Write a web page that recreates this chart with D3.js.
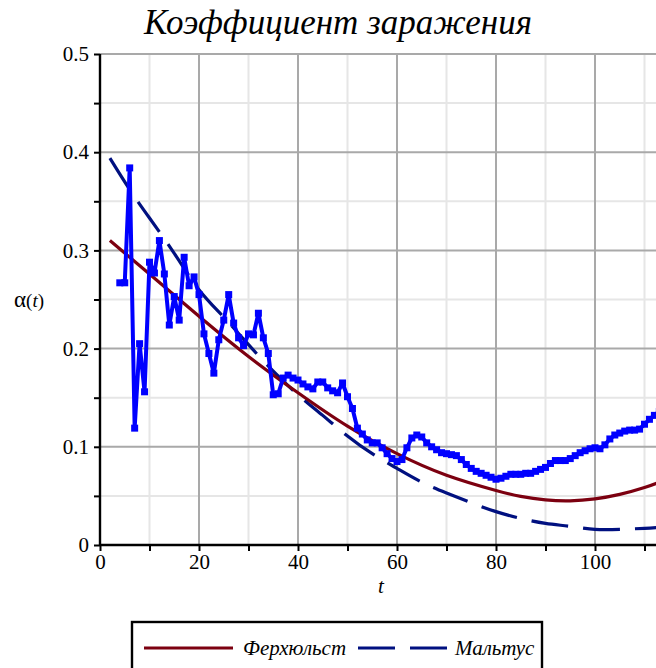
<!DOCTYPE html>
<html>
<head>
<meta charset="utf-8">
<script src="https://cdn.jsdelivr.net/npm/d3@7"></script>
<style>
  body { margin: 0; background: #fff; }
  text { font-family: "Liberation Serif", "Times New Roman", serif; }
</style>
</head>
<body>
<svg id="chart" width="656" height="668"></svg>
<script>
// observed infection coefficient, t = 4 .. 113
var obsT = d3.range(4, 114);
var obsAlpha = [0.267, 0.267, 0.384, 0.119, 0.205, 0.156, 0.288, 0.277, 0.310, 0.276,
  0.224, 0.253, 0.229, 0.293, 0.264, 0.273, 0.255, 0.215, 0.195, 0.175,
  0.209, 0.229, 0.255, 0.226, 0.211, 0.203, 0.215, 0.214, 0.236, 0.211,
  0.195, 0.153, 0.154, 0.170, 0.173, 0.170, 0.168, 0.164, 0.161, 0.159,
  0.166, 0.166, 0.160, 0.157, 0.155, 0.165, 0.151, 0.139, 0.119, 0.113,
  0.107, 0.104, 0.104, 0.099, 0.093, 0.088, 0.085, 0.087, 0.099, 0.109,
  0.112, 0.110, 0.104, 0.100, 0.097, 0.094, 0.093, 0.092, 0.091, 0.087,
  0.082, 0.078, 0.075, 0.073, 0.071, 0.069, 0.067, 0.068, 0.070, 0.072,
  0.072, 0.072, 0.073, 0.073, 0.075, 0.077, 0.079, 0.083, 0.086, 0.086,
  0.086, 0.088, 0.091, 0.094, 0.096, 0.098, 0.099, 0.098, 0.102, 0.108,
  0.112, 0.114, 0.116, 0.117, 0.117, 0.118, 0.123, 0.128, 0.132, 0.136];

// Verhulst fit
var verT = [2, 10, 20, 30, 40, 50, 60, 70, 80, 85, 90, 95, 100, 105, 110, 113];
var verAlpha = [0.310, 0.276, 0.233, 0.192, 0.155, 0.121, 0.093, 0.071, 0.0555, 0.0495, 0.046, 0.045, 0.047,
  0.0515, 0.0585, 0.064];

// Malthus fit
var malT = [2, 6, 10, 15, 20, 25, 30, 35, 40, 45, 50, 55, 60, 65, 70, 75, 80, 85, 90, 95, 100, 105, 110, 113];
var malAlpha = [0.394, 0.362, 0.333, 0.297, 0.260, 0.232, 0.204, 0.177, 0.153, 0.132, 0.111, 0.093, 0.078,
  0.064, 0.053, 0.043, 0.034, 0.027, 0.022, 0.019, 0.016, 0.016, 0.017, 0.018];

var xTicks = [0, 20, 40, 60, 80, 100];
var yTicks = [0, 0.1, 0.2, 0.3, 0.4, 0.5];
var legendNames = ["Ферхюльст", "Мальтус"];

var colRed = "#7c0010", colNavy = "#001080", colBlue = "#0000ff";
var serif = "'Liberation Serif', 'Times New Roman', serif";

var svg = d3.select("#chart");

// scales: t=0 at x=100, t=100 at x=595
var x = d3.scaleLinear().domain([0, 100]).range([100, 595]);
var y = d3.scaleLinear().domain([0, 0.5]).range([545, 54]);
var xEnd = 656;

// clip for the plot area (extends past the right edge)
svg.append("clipPath").attr("id", "clip")
  .append("rect").attr("x", 100).attr("y", 40).attr("width", xEnd - 100).attr("height", 505);

// grid
var grid = svg.append("g");
var xMinor = d3.range(10, 120, 20), yMinor = d3.range(0.05, 0.5, 0.1);
grid.selectAll(".gxm").data(xMinor).enter().append("line")
  .attr("x1", d => x(d)).attr("x2", d => x(d)).attr("y1", y(0)).attr("y2", y(0.5))
  .attr("stroke", "#e6e6e6").attr("stroke-width", 2);
grid.selectAll(".gym").data(yMinor).enter().append("line")
  .attr("x1", 100).attr("x2", xEnd).attr("y1", d => y(d)).attr("y2", d => y(d))
  .attr("stroke", "#e6e6e6").attr("stroke-width", 2);
grid.selectAll(".gx").data(xTicks.slice(1)).enter().append("line")
  .attr("x1", d => x(d)).attr("x2", d => x(d)).attr("y1", y(0)).attr("y2", y(0.5))
  .attr("stroke", "#a9a9a9").attr("stroke-width", 2);
grid.selectAll(".gy").data(yTicks.slice(1)).enter().append("line")
  .attr("x1", 100).attr("x2", xEnd).attr("y1", d => y(d)).attr("y2", d => y(d))
  .attr("stroke", "#a9a9a9").attr("stroke-width", 2);

// curves
var plot = svg.append("g").attr("clip-path", "url(#clip)");

var line = d3.line().x(d => x(d[0])).y(d => y(d[1]));
var smooth = d3.line().x(d => x(d[0])).y(d => y(d[1])).curve(d3.curveNatural);

plot.append("path")
  .datum(malT.map((t, i) => [t, malAlpha[i]]))
  .attr("d", smooth).attr("fill", "none")
  .attr("stroke", colNavy).attr("stroke-width", 3.2)
  .attr("stroke-dasharray", "37,15");

plot.append("path")
  .datum(verT.map((t, i) => [t, verAlpha[i]]))
  .attr("d", smooth).attr("fill", "none")
  .attr("stroke", colRed).attr("stroke-width", 3.2);

var obs = obsT.map((t, i) => [t, obsAlpha[i]]);
plot.append("path")
  .datum(obs)
  .attr("d", line).attr("fill", "none")
  .attr("stroke", colBlue).attr("stroke-width", 4)
  .attr("stroke-linejoin", "round");

plot.selectAll(".pt").data(obs).enter().append("rect")
  .attr("x", d => x(d[0]) - 3.5).attr("y", d => y(d[1]) - 3.5)
  .attr("width", 7).attr("height", 7)
  .attr("fill", colBlue);

// axes
var xAxis = d3.axisBottom(x).tickValues(d3.range(0, 120, 10))
  .tickSize(6).tickFormat(d => xTicks.includes(d) ? d : "");
var gx = svg.append("g").attr("transform", "translate(0," + y(0) + ")").call(xAxis);
gx.select(".domain").attr("d", "M100,0H" + xEnd).attr("stroke-width", 2.4);
gx.selectAll(".tick line").attr("stroke-width", 2);
gx.selectAll(".tick text").style("font-family", serif).style("font-size", "21px")
  .attr("dy", "0.85em").attr("y", 6);

var yAxis = d3.axisLeft(y).tickValues(d3.range(0, 0.51, 0.05))
  .tickSize(6).tickFormat(d => {
    var r = Math.round(d * 100) / 100;
    return Math.abs(r * 10 - Math.round(r * 10)) < 1e-6 ? (r === 0 ? "0" : d3.format(".1f")(r)) : "";
  });
var gy = svg.append("g").attr("transform", "translate(100,0)").call(yAxis);
gy.select(".domain").attr("d", "M0," + y(0) + "V" + y(0.5)).attr("stroke-width", 2.4);
gy.selectAll(".tick line").attr("stroke-width", 2);
gy.selectAll(".tick text").style("font-family", serif).style("font-size", "21px").attr("x", -11);

// titles
svg.append("text").attr("x", 338).attr("y", 34)
  .attr("text-anchor", "middle").style("font-size", "35px").attr("font-style", "italic")
  .text("Коэффициент заражения");

svg.append("text").attr("x", 381).attr("y", 593)
  .attr("text-anchor", "middle").style("font-size", "21px").attr("font-style", "italic")
  .text("t");

var yl = svg.append("text").attr("x", 14).attr("y", 307).style("font-size", "23px");
yl.append("tspan").text("α");
yl.append("tspan").style("font-size", "19px").text("(");
yl.append("tspan").style("font-size", "19px").attr("font-style", "italic").text("t");
yl.append("tspan").style("font-size", "19px").text(")");

// legend
var lg = svg.append("g");
lg.append("rect").attr("x", 132).attr("y", 622).attr("width", 410).attr("height", 70)
  .attr("fill", "#fff").attr("stroke", "#000").attr("stroke-width", 2.4);

var legendItems = [
  { name: legendNames[0], color: colRed, dash: null, x1: 144, x2: 233, tx: 243 },
  { name: legendNames[1], color: colNavy, dash: "37,15", x1: 358, x2: 448, tx: 455 }
];
var li = lg.selectAll(".li").data(legendItems).enter().append("g");
li.append("line")
  .attr("x1", d => d.x1).attr("x2", d => d.x2).attr("y1", 648).attr("y2", 648)
  .attr("stroke", d => d.color).attr("stroke-width", 3.2)
  .attr("stroke-dasharray", d => d.dash);
li.append("text")
  .attr("x", d => d.tx).attr("y", 655)
  .style("font-size", "21px").attr("font-style", "italic")
  .text(d => d.name);
</script>
</body>
</html>
